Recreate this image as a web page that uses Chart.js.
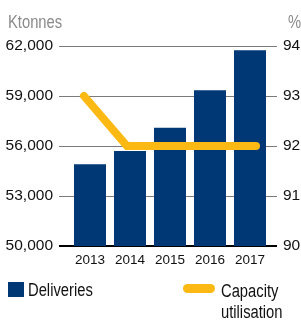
<!DOCTYPE html>
<html>
<head>
<meta charset="utf-8">
<script src="https://cdn.jsdelivr.net/npm/chart.js@4.4.1/dist/chart.umd.min.js"></script>
<style>
  html, body { margin: 0; padding: 0; background: #fff; }
  #wrap { position: relative; width: 301px; height: 322px; overflow: hidden;
          font-family: "Liberation Sans", Arial, sans-serif; }
  #c { position: absolute; left: 0; top: 0; }
  .unit { position: absolute; color: #8a8a8a; font-size: 18px; line-height: 18px;
          transform: scaleX(0.82); transform-origin: 0 0; white-space: nowrap; }
  .leg { position: absolute; color: #111; font-size: 18px; line-height: 21px;
         transform: scaleX(0.82); transform-origin: 0 0; white-space: nowrap; }
  .sw { position: absolute; }
</style>
</head>
<body>
<div id="wrap">
  <canvas id="c" width="301" height="322"></canvas>
  <div class="unit" style="left:8px; top:13px;">Ktonnes</div>
  <div class="unit" style="left:288px; top:13px;">%</div>
  <div class="sw" style="left:8px; top:282px; width:16px; height:15px; background:#003876;"></div>
  <div class="leg" style="left:28px; top:280px;">Deliveries</div>
  <div class="sw" style="left:183px; top:284px; width:32px; height:9px; border-radius:5px; background:#FDB913;"></div>
  <div class="leg" style="left:221px; top:281px;">Capacity<br>utilisation</div>
</div>
<script>
const years = ['2013', '2014', '2015', '2016', '2017'];
const deliveries = [54900, 55700, 57100, 59350, 61750];
const capacityUtilisation = [93, 92, 92, 92, 92];
const leftTicks = [50000, 53000, 56000, 59000, 62000];
const rightTicks = [90, 91, 92, 93, 94];

const NAVY = '#003876';
const YELLOW = '#FDB913';
const FONT = '"Liberation Sans", Arial, sans-serif';

const gridColor = (base) => (ctx) => (ctx.tick && ctx.tick.value === base ? '#000' : '#7a7a7a');
const gridWidth = (base) => (ctx) => (ctx.tick && ctx.tick.value === base ? 2 : 1);

new Chart(document.getElementById('c'), {
  data: {
    labels: years,
    datasets: [
      {
        type: 'line',
        label: 'Capacity utilisation',
        data: capacityUtilisation.map((v, i) => ({ x: i, y: v })),
        xAxisID: 'x2',
        yAxisID: 'y2',
        borderColor: YELLOW,
        borderWidth: 8,
        borderCapStyle: 'round',
        borderJoinStyle: 'miter',
        pointRadius: 0,
        tension: 0,
        order: 0
      },
      {
        type: 'bar',
        label: 'Deliveries',
        data: deliveries,
        xAxisID: 'x',
        yAxisID: 'y',
        backgroundColor: NAVY,
        barPercentage: 0.8,
        categoryPercentage: 1.0,
        grouped: false,
        order: 1
      }
    ]
  },
  options: {
    responsive: false,
    animation: false,
    layout: { padding: { top: 46, bottom: 40, left: 0, right: 0 } },
    plugins: { legend: { display: false }, tooltip: { enabled: false } },
    scales: {
      x: {
        type: 'category',
        position: 'bottom',
        offset: true,
        grid: { display: false, drawTicks: false },
        border: { display: false },
        ticks: { color: '#111', font: { family: FONT, size: 13.5 }, padding: 6, maxRotation: 0 },
        afterFit: (s) => { s.height = 36; }
      },
      x2: {
        type: 'linear',
        display: false,
        offset: false,
        min: -0.3256,
        max: 4.3256
      },
      y: {
        position: 'left',
        min: leftTicks[0],
        max: leftTicks[leftTicks.length - 1],
        afterBuildTicks: (s) => { s.ticks = leftTicks.map(v => ({ value: v })); },
        ticks: {
          color: '#111',
          font: { family: FONT, size: 15.5 },
          padding: 6,
          callback: (v) => Number(v).toLocaleString('en-US')
        },
        grid: { color: gridColor(50000), lineWidth: gridWidth(50000), tickLength: 11 },
        border: { display: false },
        afterFit: (s) => { s.width = 70; }
      },
      y2: {
        position: 'right',
        min: rightTicks[0],
        max: rightTicks[rightTicks.length - 1],
        afterBuildTicks: (s) => { s.ticks = rightTicks.map(v => ({ value: v })); },
        ticks: { color: '#111', font: { family: FONT, size: 15.5 }, padding: 6 },
        grid: { drawOnChartArea: false, color: gridColor(90), lineWidth: gridWidth(90), tickLength: 7 },
        border: { display: false },
        afterFit: (s) => { s.width = 31; }
      }
    }
  }
});
</script>
</body>
</html>
